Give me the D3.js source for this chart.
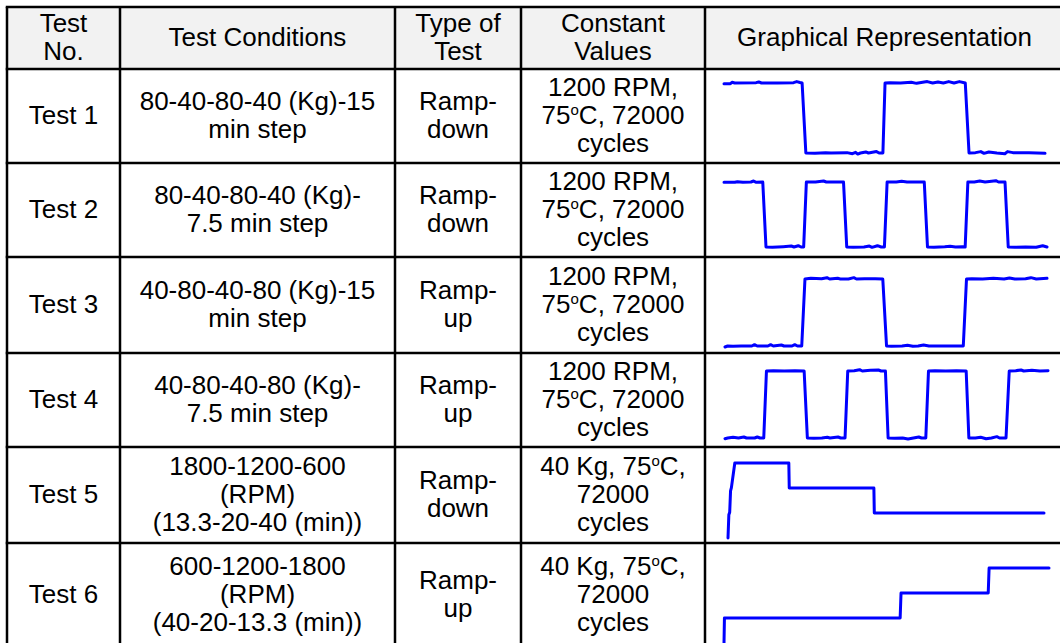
<!DOCTYPE html>
<html><head><meta charset="utf-8">
<script src="https://cdn.jsdelivr.net/npm/d3@7"></script>
<style>html,body{margin:0;padding:0;background:#fff;overflow:hidden}</style>
</head><body><svg id="c" width="1060" height="643"></svg>
<script>
// ---------- data ----------
const headers = [["Test","No."],["Test Conditions"],["Type of","Test"],["Constant","Values"],["Graphical Representation"]];
const testNo = ["Test 1","Test 2","Test 3","Test 4","Test 5","Test 6"];
const conditions = [
  ["80-40-80-40 (Kg)-15","min step"],
  ["80-40-80-40 (Kg)-","7.5 min step"],
  ["40-80-40-80 (Kg)-15","min step"],
  ["40-80-40-80 (Kg)-","7.5 min step"],
  ["1800-1200-600","(RPM)","(13.3-20-40 (min))"],
  ["600-1200-1800","(RPM)","(40-20-13.3 (min))"]
];
const testType = [["Ramp-","down"],["Ramp-","down"],["Ramp-","up"],["Ramp-","up"],["Ramp-","down"],["Ramp-","up"]];
const constants = [
  ["1200 RPM,","75°C, 72000","cycles"],
  ["1200 RPM,","75°C, 72000","cycles"],
  ["1200 RPM,","75°C, 72000","cycles"],
  ["1200 RPM,","75°C, 72000","cycles"],
  ["40 Kg, 75°C,","72000","cycles"],
  ["40 Kg, 75°C,","72000","cycles"]
];
// load (kg) vs time (min)
const test1 = [[0,79.6],[1.2,79.6],[1.5,80.4],[2,80],[6,80.2],[6.5,80.6],[7,80],[10,80],[13,80.2],[13.6,80.8],[14.2,80.3],[14.6,80],
  [15.3,40],[17,39.8],[19,40.2],[20,40],[23,40.2],[24,39.6],[24.6,40.4],[25,39.4],[25.5,40],[26.5,40.6],[27,40],[28.5,40.8],[29,40],[29.7,40],
  [30.1,80],[31,80.2],[33,80],[35,80.4],[36,79.8],[38,80.8],[39,80],[40,80.6],[41,80],[42,80.8],[43,80],[44,80.8],[45.1,80],
  [45.8,40],[47,40.2],[48,40.8],[48.6,39.8],[49.5,40.6],[51,40],[52.5,39.6],[53,40.8],[54,40.2],[57,40.2],[60,39.8]];
const test2 = [[0,79.8],[2,79.8],[2.5,80.2],[3.5,79.8],[5,80],[5.5,80.6],[6,79.8],[7.2,80],
  [7.8,40],[9,39.8],[11,40.2],[12.5,40.6],[13,40],[13.8,40.8],[14.3,40],[14.8,40],
  [15.3,80],[17,80],[18.5,80.6],[19,80],[21,80],[22.2,80],
  [22.8,40],[24,39.8],[26,40],[27,40.6],[27.5,39.8],[28.5,40.8],[29.2,40],[29.8,40],
  [30.3,80],[32,80],[33,80.4],[34,80],[36.5,80],[37.2,80],
  [37.8,40],[39,39.8],[41,40.2],[42,40.5],[43,40],[44.3,40.2],[44.8,40],
  [45.3,80],[46.5,80],[47.5,80.6],[48.5,80],[50.5,80.8],[51,80],[52.2,80],
  [52.8,40],[54,39.8],[56,40],[58,39.8],[59.2,40.8],[60,40]];
const test3 = [[0,39.4],[0.5,40],[1.5,39.8],[3,40],[5,40],[5.5,40.8],[6,40],[8,40],[8.5,40.8],[9,40],[10.5,40.6],[11,40],[12.5,40],[13,40.8],[13.5,40],[14.3,40],
  [14.9,80],[16,80.4],[18,80.2],[19,80.8],[19.5,80],[21,80.4],[21.5,80],[23,80],[24,80.8],[24.5,80],[26,80.2],[28,80.2],[29.4,80],
  [30.1,40],[31,39.8],[33,40],[34,40.4],[35,39.8],[36,40],[37,40.6],[38,40],[40,40],[44.4,40],
  [45,80],[46,80.2],[48,80],[50,80.4],[52,80],[53,80.6],[54,80],[56,80.2],[57,80.8],[58,80],[60,80.4]];
const test4 = [[0,39.6],[0.5,40],[1.5,40.4],[2.5,40],[3.5,40.6],[4,40],[5.5,40],[6,40.6],[6.5,40],[7.2,40],
  [7.7,80],[9,80.2],[11,80],[13,80.2],[14.7,80],
  [15.3,40],[16.5,39.8],[18,40],[19,40.4],[19.5,40],[21,40.6],[21.5,40],[22.3,40],
  [22.8,80],[24,80.2],[25,80.8],[25.5,80],[27,80.4],[28.5,80.6],[29,80],[29.8,80],
  [30.3,40],[31.5,39.8],[33,40],[34,39.4],[35,40],[36,40.6],[36.5,40],[37.3,40],
  [37.8,80],[39,80.2],[41,80],[43,80.2],[44.8,80],
  [45.3,40],[46.5,40],[47.5,40.4],[48.5,39.6],[49.5,40],[50.5,40.8],[51,40],[52.2,40],
  [52.8,80],[54,80.2],[55,80.6],[55.5,80],[57,80.4],[58.5,80],[60,80.2]];
// speed (RPM) vs time (min)
const test5 = [[0,0],[0.2,560],[0.4,620],[0.6,1130],[0.8,1210],[1.6,1800],[14.3,1800],[14.4,1200],[34.3,1200],[34.4,600],[74.3,600]];
const test6 = [[0,0],[0.1,600],[40,600],[40.2,1200],[60,1200],[60.2,1800],[73.8,1800]];
const series = [test1,test2,test3,test4,test5,test6];

// ---------- layout ----------
const colX = [7,120,395,521,705,1064];
const rowY = [7,69,163,257,353,447,543,646];
const FS = 26, LH = 28;
const plots = [
  {x:[724,1045], dom:[0,60], y:[153,83], vd:[40,80]},
  {x:[724,1047], dom:[0,60], y:[247,182], vd:[40,80]},
  {x:[725,1047], dom:[0,60], y:[346,279], vd:[40,80]},
  {x:[725,1048], dom:[0,60], y:[438,371], vd:[40,80]},
  {x:[728,1044], dom:[0,74.3], y:[538,463], vd:[0,1800]},
  {x:[724,1049], dom:[0,73.8], y:[643,568], vd:[0,1800]}
];

const svg = d3.select("#c");
svg.append("rect").attr("x",colX[0]).attr("y",rowY[0]).attr("width",colX[5]-colX[0]).attr("height",rowY[1]-rowY[0]).attr("fill","#f2f2f2");

function addText(lines, c, r){
  const cx = (colX[c]+colX[c+1])/2, cy = (rowY[r]+rowY[r+1])/2 - 1;
  const n = lines.length;
  lines.forEach((ln,i)=>{
    const y = cy + (i-(n-1)/2)*LH + 0.35*FS;
    const t = svg.append("text")
      .attr("x",cx).attr("y",y)
      .attr("text-anchor","middle")
      .attr("font-family","'Liberation Sans', Arial, sans-serif")
      .attr("font-size",FS).attr("fill","#000");
    const parts = ln.split("°");
    parts.forEach((p,j)=>{
      if(j>0){
        t.append("tspan").attr("font-size",15).attr("dy",-9).text("o");
        t.append("tspan").attr("dy",9).text(p);
      } else t.append("tspan").text(p);
    });
  });
}
headers.forEach((h,c)=>addText(h,c,0));
testNo.forEach((d,i)=>{
  addText([d],0,i+1);
  addText(conditions[i],1,i+1);
  addText(testType[i],2,i+1);
  addText(constants[i],3,i+1);
});

// sparklines
series.forEach((data,i)=>{
  const p = plots[i];
  const xs = d3.scaleLinear().domain(p.dom).range(p.x);
  const ys = d3.scaleLinear().domain(p.vd).range(p.y);
  svg.append("path").datum(data)
    .attr("d", d3.line().x(d=>xs(d[0])).y(d=>ys(d[1])))
    .attr("fill","none").attr("stroke","#0000ff").attr("stroke-width",3)
    .attr("stroke-linejoin","round").attr("stroke-linecap","round");
});

// grid
const g = svg.append("g").attr("stroke","#000").attr("stroke-width",2.5);
colX.forEach(x=>g.append("line").attr("x1",x).attr("x2",x).attr("y1",rowY[0]).attr("y2",rowY[7]));
rowY.forEach(y=>g.append("line").attr("x1",colX[0]-1.25).attr("x2",colX[5]).attr("y1",y).attr("y2",y));
</script></body></html>
